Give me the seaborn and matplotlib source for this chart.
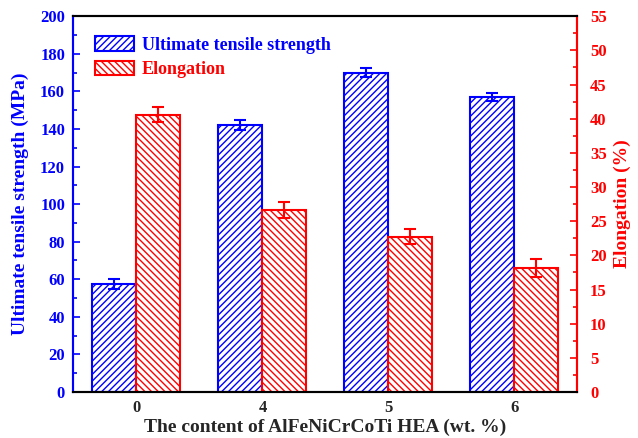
import pandas as pd
import numpy as np
import seaborn as sns
import matplotlib.pyplot as plt
import matplotlib.patches as mpatches
from matplotlib.ticker import MultipleLocator

# data
content = ["0", "4", "5", "6"]
uts = [57.5, 142, 170, 157]
uts_err = [2.5, 2.5, 2.5, 2.0]
elong = [40.6, 26.6, 22.7, 18.1]
elong_err = [1.1, 1.2, 1.1, 1.3]

series = ["Ultimate tensile strength", "Elongation"]

df = pd.DataFrame({
    "Content": content * 2,
    "Type": [series[0]] * 4 + [series[1]] * 4,
    "UTS": uts + [np.nan] * 4,
    "Elong": [np.nan] * 4 + elong,
})

sns.set_style("white")
plt.rcParams["font.family"] = ["Liberation Serif", "DejaVu Serif"]
plt.rcParams["font.weight"] = "bold"
plt.rcParams["hatch.linewidth"] = 1.0

blue = "#0000ff"
red = "#ff0000"

fig, ax = plt.subplots(figsize=(6.38, 4.38), dpi=100)
ax2 = ax.twinx()

pal = {series[0]: "white", series[1]: "white"}
sns.barplot(data=df, x="Content", y="UTS", hue="Type", hue_order=series,
            order=content, palette=pal, width=0.7, errorbar=None, ax=ax,
            legend=False)
sns.barplot(data=df, x="Content", y="Elong", hue="Type", hue_order=series,
            order=content, palette=pal, width=0.7, errorbar=None, ax=ax2,
            legend=False)

# style the bars and add error bars
uts_bars = [p for p in ax.patches if p.get_height() > 0]
el_bars = [p for p in ax2.patches if p.get_height() > 0]
for p in uts_bars:
    p.set_edgecolor(blue)
    p.set_hatch("/////")
    p.set_linewidth(1.5)
for p in el_bars:
    p.set_edgecolor(red)
    p.set_hatch("\\\\\\\\\\")
    p.set_linewidth(1.5)

xu = [p.get_x() + p.get_width() / 2 for p in uts_bars]
xe = [p.get_x() + p.get_width() / 2 for p in el_bars]
ax.errorbar(xu, uts, yerr=uts_err, fmt="none", ecolor=blue, elinewidth=1.5,
            capsize=4, capthick=1.5)
ax2.errorbar(xe, elong, yerr=elong_err, fmt="none", ecolor=red, elinewidth=1.5,
             capsize=4, capthick=1.5)

ax.set_xlim(-0.5, 3.5)
ax.set_ylim(0, 200)
ax2.set_ylim(0, 55)
ax.yaxis.set_major_locator(MultipleLocator(20))
ax.yaxis.set_minor_locator(MultipleLocator(10))
ax2.yaxis.set_major_locator(MultipleLocator(5))
ax2.yaxis.set_minor_locator(MultipleLocator(2.5))

ax.set_xlabel("The content of AlFeNiCrCoTi HEA (wt. %)", fontsize=14,
              fontweight="bold", labelpad=2)
ax.set_ylabel("Ultimate tensile strength (MPa)", fontsize=14,
              fontweight="bold", color=blue, labelpad=8)
ax2.set_ylabel("Elongation (%)", fontsize=14, fontweight="bold", color=red,
               labelpad=5)

ax.tick_params(axis="x", length=0, labelsize=12, pad=6)
ax.tick_params(axis="y", which="major", direction="in", length=5, width=1.2,
               colors=blue, labelsize=12, pad=6)
ax.tick_params(axis="y", which="minor", direction="in", length=3, width=1.2,
               colors=blue, left=True)
ax2.tick_params(axis="y", which="major", direction="in", length=5, width=1.2,
                colors=red, labelsize=12, pad=9)
ax2.tick_params(axis="y", which="minor", direction="in", length=3, width=1.2,
                colors=red, right=True)

for a in (ax, ax2):
    for s in a.spines.values():
        s.set_linewidth(1.5)
        s.set_color("black")
ax2.spines["left"].set_color(blue)
ax2.spines["right"].set_color(red)
ax.spines["left"].set_color(blue)
ax.spines["right"].set_color(red)

handles = [
    mpatches.Patch(facecolor="white", edgecolor=blue, hatch="/////", linewidth=1.5),
    mpatches.Patch(facecolor="white", edgecolor=red, hatch="\\\\\\\\\\", linewidth=1.5),
]
leg = ax.legend(handles, series, loc="upper left", frameon=False,
                prop={"size": 13, "weight": "bold"}, bbox_to_anchor=(0.01, 0.99),
                handlelength=2.2, handleheight=0.85, handletextpad=0.4,
                labelspacing=0.4)
leg.get_texts()[0].set_color(blue)
leg.get_texts()[1].set_color(red)

fig.subplots_adjust(left=0.115, right=0.905, top=0.963, bottom=0.105)
fig.savefig("out.png", dpi=100)
